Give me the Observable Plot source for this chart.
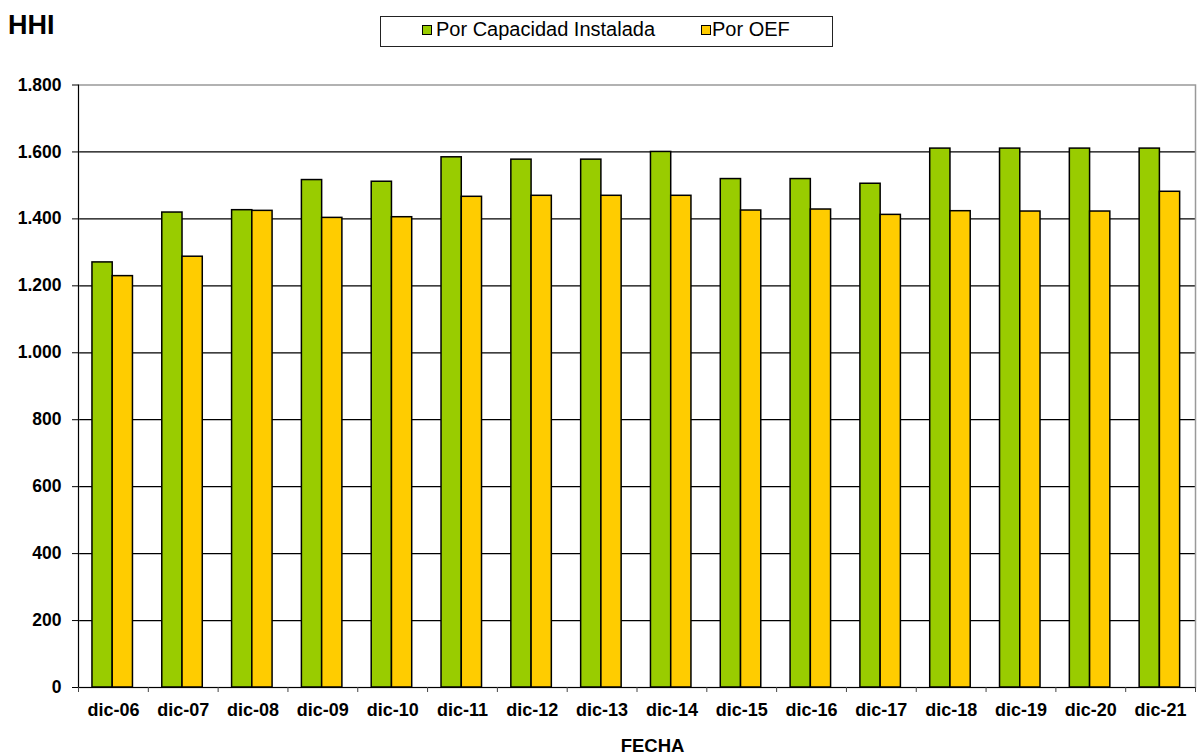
<!DOCTYPE html>
<html>
<head>
<meta charset="utf-8">
<script src="https://cdn.jsdelivr.net/npm/d3@7"></script>
<script src="https://cdn.jsdelivr.net/npm/@observablehq/plot@0.6"></script>
<style>
  html, body { margin: 0; padding: 0; background: #fff; }
  #wrap { position: relative; width: 1198px; height: 755px; font-family: "Liberation Sans", Arial, sans-serif; color: #000; }
  #title { position: absolute; left: 8px; top: 12px; font-size: 27px; font-weight: bold; line-height: 1; }
  #legend { position: absolute; left: 380px; top: 16px; width: 451px; height: 29px; border: 1.5px solid #222; background: #fff; }
  #legend .sw { position: absolute; top: 8px; width: 8px; height: 8px; border: 1px solid #000; }
  #legend .lab { position: absolute; top: 2px; font-size: 20px; line-height: 1; }
  #xtitle { position: absolute; left: 0; width: 1305px; top: 737px; text-align: center; font-size: 18.5px; font-weight: bold; line-height: 1; }
  #chart { position: absolute; left: 0; top: 0; }
</style>
</head>
<body>
<div id="wrap">
  <div id="chart"></div>
  <div id="title">HHI</div>
  <div id="legend"></div>
  <div id="xtitle">FECHA</div>
</div>
<script>
// Herfindahl-Hirschman index at each December, 2006–2021
const categories = ["dic-06","dic-07","dic-08","dic-09","dic-10","dic-11","dic-12","dic-13",
                    "dic-14","dic-15","dic-16","dic-17","dic-18","dic-19","dic-20","dic-21"];
const seriesNames = ["Por Capacidad Instalada", "Por OEF"];
const capacidadInstalada = [1270, 1419, 1426, 1516, 1511, 1584, 1577, 1577,
                            1600, 1519, 1519, 1505, 1610, 1610, 1610, 1610];
const oef = [1229, 1287, 1424, 1403, 1405, 1466, 1469, 1469,
             1469, 1425, 1428, 1412, 1423, 1422, 1422, 1481];
const yTicks = [0, 200, 400, 600, 800, 1000, 1200, 1400, 1600, 1800];
const colors = ["#99CC00", "#FFCC00"];

// Position of each bar inside its category slot (fraction of the slot)
const barEdges = [[0.2, 0.49], [0.49, 0.78]];

const rows = [];
categories.forEach((c, i) => {
  [capacidadInstalada, oef].forEach((vals, s) => {
    rows.push({cat: c, series: seriesNames[s], value: vals[i],
               x1: i + barEdges[s][0], x2: i + barEdges[s][1]});
  });
});

const fmt = d3.formatLocale({decimal: ",", thousands: ".", grouping: [3]}).format(",d");

const chart = Plot.plot({
  width: 1198,
  height: 755,
  marginLeft: 78,
  marginRight: 3,
  marginTop: 84.5,
  marginBottom: 68,
  style: {fontFamily: "'Liberation Sans', Arial, sans-serif", fontSize: "18px", fontWeight: "bold", color: "#000", background: "#fff"},
  x: {type: "linear", domain: [0, categories.length]},
  y: {domain: [0, 1800]},
  color: {domain: seriesNames, range: colors},
  marks: [
    Plot.gridY(yTicks.filter(t => t > 0 && t < 1800), {stroke: "#000", strokeOpacity: 1, strokeWidth: 1.2}),
    Plot.frame({stroke: "#999", strokeWidth: 1.5}),
    Plot.rectY(rows, {x1: "x1", x2: "x2", y: "value", fill: "series", stroke: "#000", strokeWidth: 1.5}),
    Plot.ruleX([0], {stroke: "#000", strokeWidth: 1}),
    Plot.ruleY([0], {stroke: "#000", strokeWidth: 1.2}),
    Plot.axisY({ticks: yTicks, tickSize: 6, tickPadding: 11, tickFormat: fmt, label: null, stroke: "#000", fontSize: 17.5}),
    Plot.axisX({ticks: d3.range(0, categories.length + 1), tickSize: 5, tickFormat: () => "", label: null, stroke: "#444"}),
    Plot.axisX({ticks: d3.range(categories.length).map(i => i + 0.5), tickSize: 0, tickPadding: 16,
                tickFormat: v => categories[Math.floor(v)], label: null, fontSize: 18})
  ]
});
document.getElementById("chart").appendChild(chart);

// Legend
const legend = d3.select("#legend");
const legendPos = [[41, 55], [320, 331]];
seriesNames.forEach((name, s) => {
  legend.append("div").attr("class", "sw")
    .style("left", legendPos[s][0] + "px").style("background", colors[s]);
  legend.append("div").attr("class", "lab")
    .style("left", legendPos[s][1] + "px").text(name);
});
</script>
</body>
</html>
